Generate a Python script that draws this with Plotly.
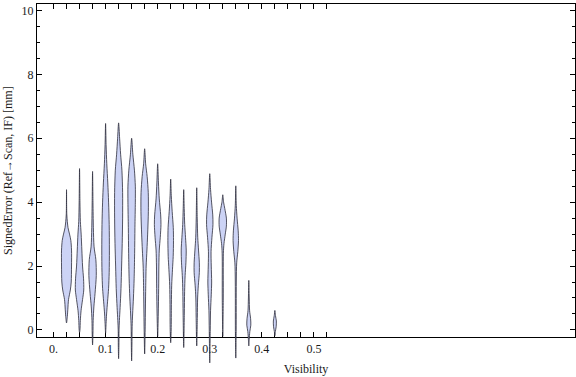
import plotly.graph_objects as go

# ---------------- data ----------------
# violin positions (Visibility bins)
positions = [0.025, 0.05, 0.075, 0.1, 0.125, 0.15, 0.175, 0.2, 0.225,
             0.25, 0.275, 0.3, 0.325, 0.35, 0.375, 0.425]

# each violin profile: signed-error levels (mm), top -> bottom
profile_y = [
    [4.39, 3.6, 3.2, 3.0, 2.8, 2.5, 2.0, 1.5, 1.25, 0.95, 0.65, 0.42, 0.22],
    [5.05, 4.0, 3.4, 3.0, 2.5, 2.0, 1.6, 1.25, 0.95, 0.6, 0.3, 0.0, -0.08],
    [4.96, 4.0, 3.2, 2.6, 2.2, 1.7, 1.15, 0.72, 0.3, -0.1, -0.47],
    [6.46, 5.8, 5.2, 4.6, 4.0, 3.3, 2.5, 1.8, 1.3, 0.9, 0.5, 0.2, -0.1],
    [6.48, 6.0, 5.5, 5.0, 4.3, 3.5, 2.7, 2.0, 1.3, 0.7, 0.3, 0.0, -0.5, -0.9],
    [6.0, 5.5, 5.0, 4.5, 4.0, 3.2, 2.4, 1.6, 1.0, 0.5, 0.1, -0.5, -0.97],
    [5.67, 5.2, 4.8, 4.3, 3.7, 3.0, 2.5, 2.0, 1.2, 0.5, 0.0, -0.75],
    [5.2, 4.6, 4.1, 3.6, 3.3, 2.9, 2.5, 2.0, 1.3, 0.5, -0.2],
    [4.72, 4.2, 3.7, 3.2, 2.8, 2.3, 1.9, 1.4, 0.8, 0.0, -0.4],
    [4.39, 3.8, 3.3, 2.9, 2.5, 2.1, 1.7, 1.2, 0.5, -0.55],
    [4.45, 3.5, 2.9, 2.5, 2.1, 1.8, 1.4, 1.0, 0.4, -0.5],
    [4.89, 4.4, 4.0, 3.6, 3.3, 2.9, 2.45, 2.0, 1.5, 1.1, 0.6, 0.0, -1.03],
    [4.23, 4.0, 3.8, 3.5, 3.25, 3.0, 2.7, 2.4, 1.0, -0.2],
    [4.51, 3.9, 3.5, 3.1, 2.8, 2.45, 2.1, 1.5, 0.0, -0.88],
    [1.55, 1.0, 0.6, 0.35, 0.15, -0.05, -0.3, -0.5],
    [0.61, 0.45, 0.28, 0.1, -0.05, -0.18],
]
# relative half-widths of each violin at those levels
profile_w = [
    [0, 0.3, 1.5, 3.0, 4.3, 5.0, 5.0, 4.7, 3.8, 2.0, 1.3, 0.8, 0],
    [0, 0.4, 0.8, 1.6, 2.3, 3.0, 4.0, 4.2, 3.0, 1.5, 0.8, 0.4, 0],
    [0, 0.4, 0.8, 1.5, 3.3, 3.7, 2.5, 1.3, 0.6, 0.4, 0],
    [0, 0.5, 1.2, 2.2, 3.0, 3.6, 3.8, 3.6, 3.0, 2.0, 1.0, 0.5, 0],
    [0, 1.0, 2.0, 3.3, 4.0, 4.0, 3.6, 3.0, 2.4, 1.5, 0.8, 0.4, 0.3, 0],
    [0, 1.2, 2.8, 3.7, 3.7, 3.3, 3.0, 2.5, 1.8, 1.0, 0.5, 0.3, 0],
    [0, 1.0, 2.5, 3.6, 3.7, 3.0, 2.3, 1.5, 1.0, 0.7, 0.5, 0],
    [0, 0.8, 1.6, 3.0, 3.3, 2.6, 1.6, 1.2, 1.0, 0.6, 0],
    [0, 0.6, 1.5, 2.6, 2.8, 2.5, 1.8, 1.0, 0.7, 0.5, 0],
    [0, 0.5, 1.0, 1.8, 2.5, 2.2, 1.4, 0.9, 0.6, 0],
    [0, 0.5, 1.0, 1.8, 2.6, 2.6, 1.6, 0.9, 0.6, 0],
    [0, 0.8, 1.8, 3.0, 3.2, 2.2, 1.3, 1.5, 1.9, 1.5, 0.8, 0.5, 0],
    [0, 0.8, 2.0, 3.6, 3.6, 2.5, 1.2, 0.6, 0.5, 0],
    [0, 0.5, 1.3, 2.4, 2.7, 2.0, 0.9, 0.5, 0.4, 0],
    [0, 0.4, 0.8, 1.8, 2.0, 1.0, 0.4, 0],
    [0, 0.6, 1.5, 1.3, 0.5, 0],
]

x_tick_vals = [i * 0.025 for i in range(22)]
x_tick_labels = ["0.", "", "", "", "0.1", "", "", "", "0.2", "", "", "",
                 "0.3", "", "", "", "0.4", "", "", "", "0.5", ""]
y_tick_vals = [0, 2, 4, 6, 8, 10]

X_RANGE = [-0.0317, 1.0013]
Y_RANGE = [-0.23, 10.2]
WIDTH_SCALE = 1 / 520.6   # profile widths -> visibility units

# ---------------- layout geometry ----------------
W, H = 576, 377
M_L, M_R, M_T, M_B = 37, 1, 4, 11
plot_h = H - M_T - M_B
frame_bottom_px = 337.3
d = (H - M_B - frame_bottom_px) / plot_h
y2_low = Y_RANGE[1] - (Y_RANGE[1] - Y_RANGE[0]) / (1 - d)

FONT = "Liberation Serif"
FILL = "rgb(204,211,245)"
EDGE = "rgba(45,45,60,0.8)"

fig = go.Figure()

# empty trace so that the framed x/y subplot is created
fig.add_trace(go.Scatter(x=[None], y=[None], xaxis="x", yaxis="y",
                         mode="markers", showlegend=False, hoverinfo="skip"))

for pos, ys, ws in zip(positions, profile_y, profile_w):
    right_x = [pos + w * WIDTH_SCALE for w in ws]
    left_x = [pos - w * WIDTH_SCALE for w in ws]
    px = right_x + left_x[-2::-1]
    py = list(ys) + list(ys[-2::-1])
    fig.add_trace(go.Scatter(
        x=px, y=py, xaxis="x2", yaxis="y2",
        mode="lines", fill="toself", fillcolor=FILL,
        line=dict(color=EDGE, width=1, shape="spline", smoothing=0.8),
        hoverinfo="skip", showlegend=False,
    ))

axis_common = dict(
    showgrid=False, zeroline=False, showline=True, linecolor="black",
    linewidth=1, mirror="allticks", ticks="inside", tickcolor="black",
    tickfont=dict(family=FONT, size=12, color="#1a1a1a"),
)

fig.update_layout(
    width=W, height=H,
    margin=dict(l=M_L, r=M_R, t=M_T, b=M_B),
    paper_bgcolor="white", plot_bgcolor="rgba(0,0,0,0)",
    showlegend=False,
    xaxis=dict(
        range=X_RANGE, anchor="y", tickmode="array",
        tickvals=x_tick_vals, ticktext=x_tick_labels, ticklen=5, tickwidth=1,
        title=dict(text="Visibility", font=dict(family=FONT, size=12, color="#1a1a1a"),
                   standoff=9),
        automargin=False,
        **axis_common,
    ),
    yaxis=dict(
        range=Y_RANGE, domain=[d, 1], anchor="x", tickmode="array",
        tickvals=y_tick_vals, ticktext=[str(v) for v in y_tick_vals],
        ticklen=5, tickwidth=1,
        minor=dict(dtick=0.5, tick0=0, ticks="inside", ticklen=3,
                   tickcolor="black", showgrid=False),
        title=dict(text="SignedError (Ref\u2192Scan, IF) [mm]",
                   font=dict(family=FONT, size=12, color="#1a1a1a"), standoff=6),
        automargin=False,
        **axis_common,
    ),
    xaxis2=dict(
        range=X_RANGE, domain=[0, 1], anchor="y2",
        visible=False, showgrid=False, zeroline=False,
    ),
    yaxis2=dict(
        range=[y2_low, Y_RANGE[1]], domain=[0, 1], anchor="x2",
        visible=False, showgrid=False, zeroline=False,
    ),
)

fig.write_html("out.html", config={"staticPlot": True, "displayModeBar": False},
               post_script="document.body.style.margin='0';")
